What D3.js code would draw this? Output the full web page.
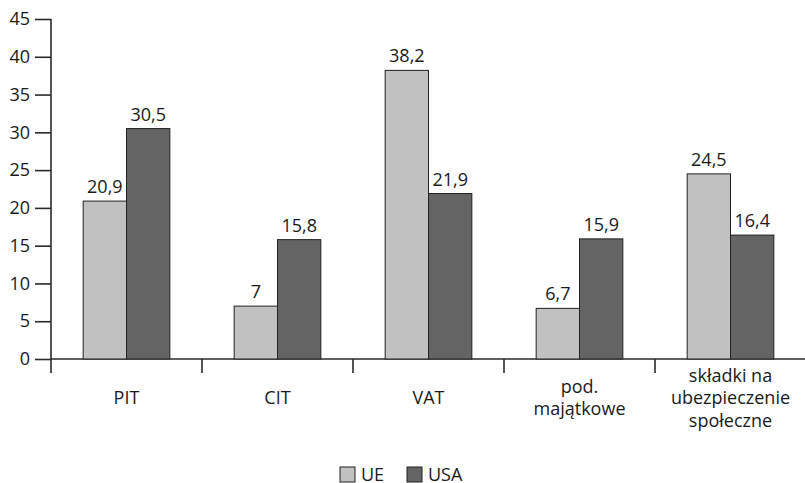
<!DOCTYPE html>
<html><head><meta charset="utf-8">
<script src="https://cdn.jsdelivr.net/npm/d3@7"></script>
<style>body{margin:0;background:#fff}svg{display:block}text{font-family:"Open Sans",sans-serif;fill:#1a1a1a}</style>
</head><body><svg id="c" width="805" height="483"></svg>
<script>
const categories = [["PIT"],["CIT"],["VAT"],["pod.","majątkowe"],["składki na","ubezpieczenie","społeczne"]];
const seriesNames = ["UE","USA"];
const ueValues = [20.9, 7, 38.2, 6.7, 24.5];
const usaValues = [30.5, 15.8, 21.9, 15.9, 16.4];
const yTicks = [0,5,10,15,20,25,30,35,40,45];
const colors = ["#c1c1c1","#646464"];

(function(){
const svg = d3.select("#c");
const mLeft = 51, mRight = 806, mTop = 19, mBottom = 359;
const fs = "18px";
const idx = d3.range(categories.length);
const x = d3.scaleBand().domain(idx).range([mLeft, mRight]);
const bw = x.bandwidth()*0.287;
const y = d3.scaleLinear().domain([0,45]).range([mBottom, mTop]);

// y axis
const yAxis = svg.append("g").attr("transform",`translate(${mLeft},0)`)
  .call(d3.axisLeft(y).tickValues(yTicks).tickSize(16).tickPadding(5));
yAxis.select(".domain").remove();
yAxis.selectAll("line").attr("stroke","#2a2a2a").attr("stroke-width",1.6);
yAxis.selectAll("text").style("font-size",fs).attr("fill","#1a1a1a").style("font-family","'Open Sans',sans-serif");
svg.append("line").attr("x1",mLeft).attr("x2",mLeft).attr("y1",mTop).attr("y2",mBottom+14).attr("stroke","#2a2a2a").attr("stroke-width",1.6);

// x axis
svg.append("line").attr("x1",mLeft).attr("x2",805).attr("y1",mBottom).attr("y2",mBottom).attr("stroke","#2a2a2a").attr("stroke-width",1.6);
idx.slice(1).forEach(i=>{
  svg.append("line").attr("x1",x(i)).attr("x2",x(i)).attr("y1",mBottom).attr("y2",mBottom+14).attr("stroke","#2a2a2a").attr("stroke-width",1.6);
});

const data = [];
idx.forEach(i=>{
  [ueValues[i], usaValues[i]].forEach((v,s)=>data.push({i,s,v}));
});
const bx = d => x(d.i) + x.bandwidth()/2 + (d.s===0 ? -bw : 0);
svg.selectAll("rect.bar").data(data).enter().append("rect").attr("class","bar")
  .attr("x", bx).attr("width", bw)
  .attr("y", d=>y(d.v)).attr("height", d=>mBottom-y(d.v))
  .attr("fill", d=>colors[d.s]).attr("stroke","#222").attr("stroke-width",1);
svg.selectAll("text.val").data(data).enter().append("text").attr("class","val")
  .attr("x", d=>bx(d)+bw/2).attr("y", d=>y(d.v)-8)
  .attr("text-anchor","middle").style("font-size",fs)
  .text(d=>String(d.v).replace(".",","));

// category labels
idx.forEach(i=>{
  const lines = categories[i];
  const lh = 22.5;
  const startY = 404 - (lines.length-1)*lh/2;
  const t = svg.append("text").attr("text-anchor","middle").style("font-size",fs);
  lines.forEach((l,k)=>t.append("tspan").attr("x", x(i)+x.bandwidth()/2).attr("y", startY + k*lh).text(l));
});

// legend
const lg = [{s:0,x:340},{s:1,x:407}];
lg.forEach(l=>{
  svg.append("rect").attr("x",l.x).attr("y",467).attr("width",15).attr("height",15)
    .attr("fill",colors[l.s]).attr("stroke","#222").attr("stroke-width",1);
  svg.append("text").attr("x",l.x+21).attr("y",481).style("font-size",fs).text(seriesNames[l.s]);
});
})();
</script></body></html>
